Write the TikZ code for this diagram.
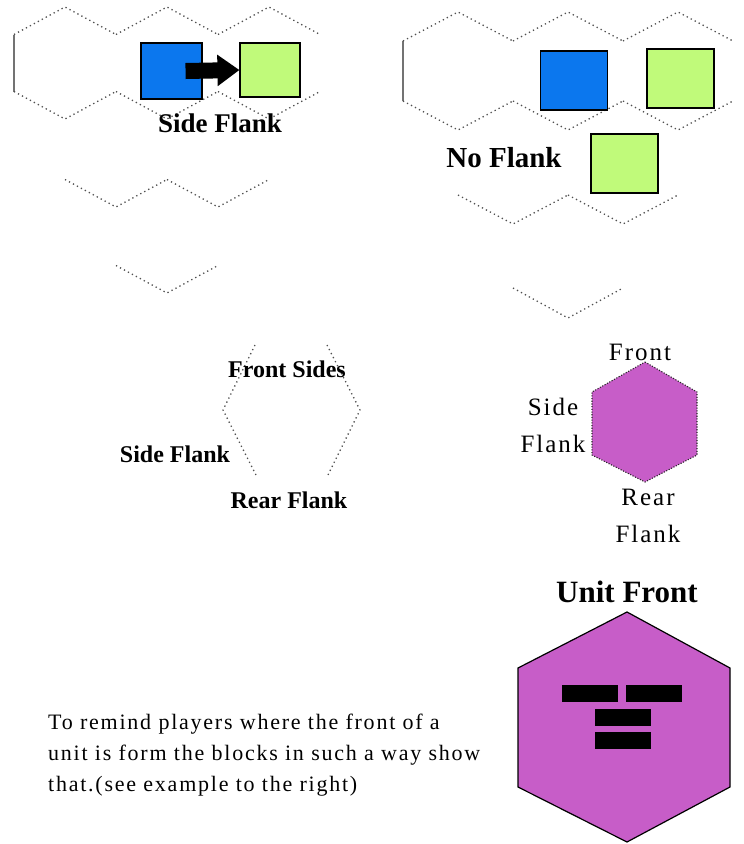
\documentclass[tikz,border=0pt]{standalone}
\usepackage{fontspec}
\setmainfont{Liberation Serif}
\newfontfamily\spacedserif[LetterSpace=8]{Liberation Serif}
\usepackage{xcolor}
\usetikzlibrary{arrows.meta,positioning,calc}
\definecolor{unitblue}{HTML}{0B77EE}
\definecolor{foegreen}{HTML}{C0FA7A}
\definecolor{orchid}{HTML}{C75DC8}
\definecolor{gridgray}{HTML}{505050}
\newcommand{\boldlbl}[1]{\fontsize{#1}{#1}\selectfont\bfseries}
\tikzset{
  hexline/.style={draw=gridgray, line width=1.3pt, dash pattern=on 1.3pt off 3.2pt},
  hexedge/.style={draw=gridgray!80, line width=1.4pt},
  blockL/.style={rectangle, draw=black, line width=1.1pt, minimum width=61pt, minimum height=56pt, inner sep=0pt},
  blockR/.style={rectangle, draw=black, line width=1.1pt, minimum width=67pt, minimum height=59pt, inner sep=0pt},
  bar/.style={rectangle, fill=black, minimum width=56pt, minimum height=17pt, inner sep=0pt},
  flanklbl/.style={inner sep=0pt, align=center},
  plainlbl/.style={inner sep=0pt, align=center, font=\spacedserif\fontsize{25}{37}\selectfont},
  push/.style={line width=16pt, -{Triangle[length=22pt, width=30pt]}},
}
\begin{document}
\begin{tikzpicture}[x=1pt, y=-1pt]
\useasboundingbox (0,0) rectangle (744,844);
% left grid: side flank
\draw[hexedge] (14,34.5) -- (14,91.5);
\foreach \cx in {65,167,269} {
  \draw[hexline] (\cx-51,34.5) -- (\cx,7) -- (\cx+51,34.5);
  \draw[hexline] (\cx-51,91.5) -- (\cx,119) -- (\cx+51,91.5);
}
\foreach \cx in {116,218}
  \draw[hexline] (\cx-51,179.5) -- (\cx,207) -- (\cx+51,179.5);
\draw[hexline] (116,265.5) -- (167,293) -- (218,265.5);
\node[blockL, fill=unitblue] (blueL) at (171.5,71) {};
\node[blockL, fill=foegreen, minimum width=60pt, minimum height=54pt] (greenL) at (270,70) {};
\draw[push] ($(blueL.east)+(-17,0)$) -- (greenL.west);
\node[flanklbl, font=\boldlbl{27}] (sideL) at (220,123) {Side Flank};
% right grid: no flank
\draw[hexedge] (403,41) -- (403,101);
\foreach \cx in {458,568,678} {
  \draw[hexline] (\cx-55,41) -- (\cx,12) -- (\cx+55,41);
  \draw[hexline] (\cx-55,101) -- (\cx,130) -- (\cx+55,101);
}
\foreach \cx in {513,623}
  \draw[hexline] (\cx-55,195) -- (\cx,224) -- (\cx+55,195);
\draw[hexline] (513,288) -- (568,318) -- (623,288);
\node[blockR, fill=unitblue] (blueR) at (574,80.5) {};
\node[blockR, fill=foegreen] (greenR) at (680.5,78.5) {};
\node[blockR, fill=foegreen] (greenR2) at (624.5,163.5) {};
\node[flanklbl, font=\boldlbl{29}] (noflank) at (504,158) {No Flank};
% outline hex with its sides named
\draw[hexline] (255,345) -- (223,410) -- (257,477);
\draw[hexline] (327,345) -- (360,410) -- (327,477);
\node[flanklbl, font=\boldlbl{24}] (frontsides) at (287,369) {Front Sides};
\node[flanklbl, font=\boldlbl{24}] (sideM) at (175,454) {Side Flank};
\node[flanklbl, font=\boldlbl{24}] (rearM) at (289,500) {Rear Flank};
% small unit hex
\draw[hexline, draw=black!85, line width=1.1pt, dash pattern=on 1.1pt off 1.6pt, fill=orchid] (645,362) -- (697,392) -- (697,455) -- (645,482) -- (592,455) -- (592,392) -- cycle;
\node[plainlbl] (frontS) at (640,352) {Front};
\node[plainlbl] (sideS) at (553,425) {Side\\Flank};
\node[plainlbl] (rearS) at (648,516) {Rear\\Flank};
% big unit hex with blocks
\node[flanklbl, font=\boldlbl{31}] (unitfront) at (627,592) {Unit Front};
\draw[draw=black, line width=1.2pt, fill=orchid] (627,612) -- (730,668) -- (730,787) -- (627,842) -- (518,787) -- (518,668) -- cycle;
\node[bar] (bar1) at (590,693.5) {};
\node[bar, right=8pt of bar1] (bar2) {};
\node[bar] (bar3) at (623,717.5) {};
\node[bar, below=6pt of bar3] (bar4) {};
\node[inner sep=0pt, anchor=north west, align=left, font=\spacedserif\fontsize{22}{31}\selectfont] (remind) at (48,714)
 {To remind players where the front of a\\
  unit is form the blocks in such a way show\\
  that.(see example to the right)};
\end{tikzpicture}
\end{document}
